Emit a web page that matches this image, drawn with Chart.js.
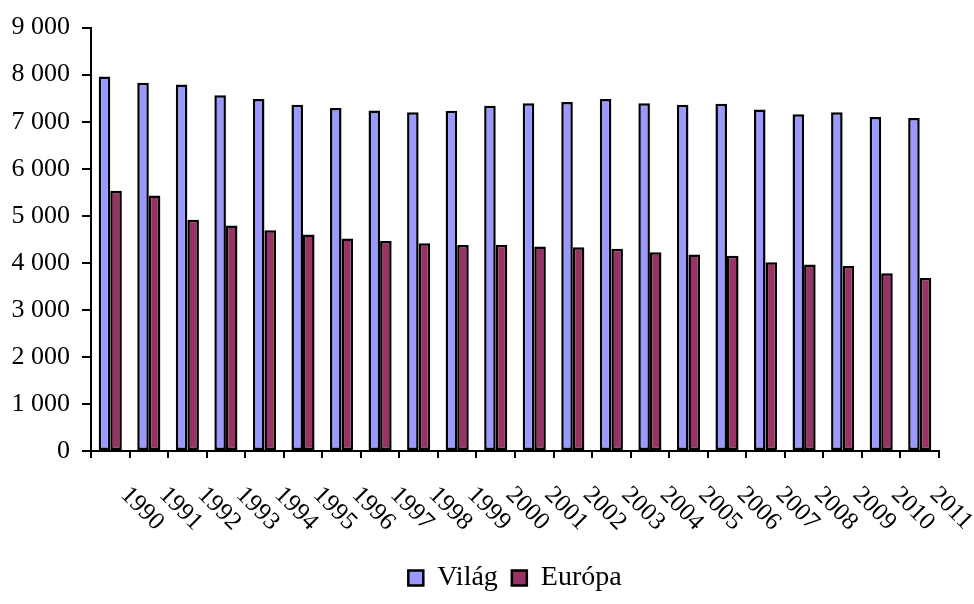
<!DOCTYPE html>
<html>
<head>
<meta charset="utf-8">
<script src="https://cdn.jsdelivr.net/npm/chart.js@4/dist/chart.umd.min.js"></script>
<style>
  html, body { margin: 0; padding: 0; background: #fff; }
  #wrap { width: 974px; height: 604px; }
</style>
</head>
<body>
<div id="wrap"><canvas id="c" width="974" height="604"></canvas></div>
<script>
// Years on the category axis
const years = ['1990','1991','1992','1993','1994','1995','1996','1997','1998','1999','2000',
               '2001','2002','2003','2004','2005','2006','2007','2008','2009','2010','2011'];
// Series values
const vilag  = [7960, 7830, 7790, 7560, 7480, 7360, 7290, 7240, 7200, 7230, 7340,
                7390, 7420, 7480, 7390, 7360, 7380, 7260, 7160, 7200, 7100, 7080];
const europa = [5530, 5430, 4915, 4795, 4690, 4600, 4515, 4465, 4415, 4380, 4385,
                4345, 4330, 4300, 4225, 4175, 4150, 4010, 3965, 3930, 3780, 3675];
// Value axis ticks
const yTicks = [0, 1000, 2000, 3000, 4000, 5000, 6000, 7000, 8000, 9000];

const FONT = "'Liberation Serif', 'Times New Roman', serif";
Chart.defaults.font.family = FONT;
Chart.defaults.color = '#000';

// thousands separated by a space: 9000 -> "9 000"
function fmt(v) {
  return String(v).replace(/\B(?=(\d{3})+(?!\d))/g, ' ');
}

// Year labels slanted downward to the right below the axis
const slantedYears = {
  id: 'slantedYears',
  afterDraw(chart) {
    const xs = chart.scales.x;
    const ctx = chart.ctx;
    ctx.save();
    ctx.font = '25px ' + FONT;
    ctx.fillStyle = '#000';
    ctx.textAlign = 'left';
    ctx.textBaseline = 'middle';
    const y0 = xs.top + 40;
    years.forEach((lab, i) => {
      const x = xs.getPixelForValue(i);
      ctx.save();
      ctx.translate(x + 14, y0);
      ctx.rotate(Math.PI / 4);
      ctx.fillText(lab, 0, 0);
      ctx.restore();
    });
    ctx.restore();
  }
};

new Chart(document.getElementById('c'), {
  type: 'bar',
  data: {
    labels: years,
    datasets: [
      { label: 'Világ', data: vilag, backgroundColor: '#9999FF', borderColor: '#000',
        borderWidth: 2.5, borderSkipped: false },
      { label: 'Európa', data: europa, backgroundColor: '#993366', borderColor: '#000',
        borderWidth: 2.5, borderSkipped: false }
    ]
  },
  options: {
    responsive: false,
    animation: false,
    layout: { padding: { top: 26, right: 35, left: 0, bottom: 2 } },
    datasets: { bar: { categoryPercentage: 0.6, barPercentage: 1.0 } },
    plugins: {
      tooltip: { enabled: false },
      legend: {
        position: 'bottom',
        fullSize: false,
        labels: {
          font: { size: 28, family: FONT },
          color: '#000',
          boxWidth: 15,
          boxHeight: 15,
          padding: 14
        }
      }
    },
    scales: {
      x: {
        grid: { display: true, drawOnChartArea: false, drawTicks: true, tickLength: 7,
                color: '#000', lineWidth: 2, offset: true },
        border: { display: true, color: '#000', width: 2 },
        ticks: { display: false },
        afterFit(scale) { scale.height = 99; }
      },
      y: {
        min: 0,
        max: 9000,
        afterBuildTicks(scale) { scale.ticks = yTicks.map(v => ({ value: v })); },
        grid: { display: true, drawOnChartArea: false, drawTicks: true, tickLength: 9,
                color: '#000', lineWidth: 2 },
        border: { display: true, color: '#000', width: 2 },
        ticks: {
          font: { size: 26, family: FONT },
          color: '#000',
          padding: 12,
          callback: (v) => fmt(v)
        },
        afterFit(scale) { scale.width = 91; }
      }
    }
  },
  plugins: [slantedYears]
});
</script>
</body>
</html>
